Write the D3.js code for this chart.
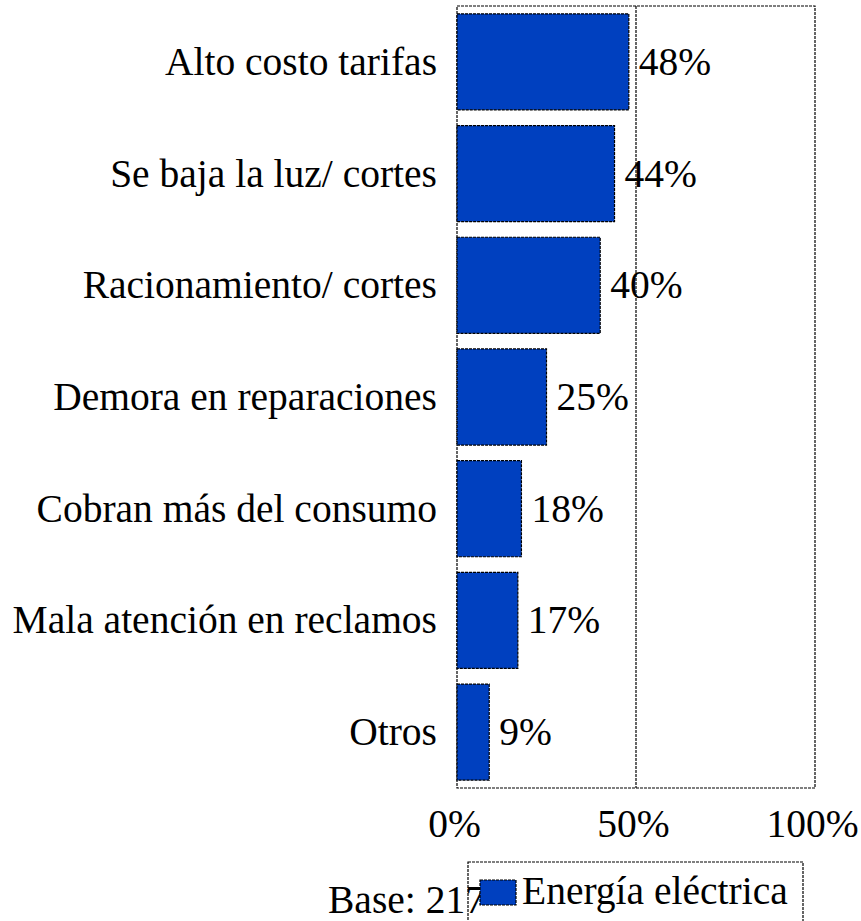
<!DOCTYPE html>
<html>
<head>
<meta charset="utf-8">
<script src="https://cdn.jsdelivr.net/npm/d3@7"></script>
<style>
  html, body { margin: 0; padding: 0; background: #fff; }
  svg { display: block; }
  text { font-family: "Liberation Serif", "Times New Roman", serif; fill: #000; }
</style>
</head>
<body>
<svg id="chart" width="861" height="921"></svg>
<script>
const categories = [
  "Alto costo tarifas",
  "Se baja la luz/ cortes",
  "Racionamiento/ cortes",
  "Demora en reparaciones",
  "Cobran más del consumo",
  "Mala atención en reclamos",
  "Otros"
];
const values = [48, 44, 40, 25, 18, 17, 9];
const tickValues = [0, 50, 100];
const tickLabels = ["0%", "50%", "100%"];
const seriesName = "Energía eléctrica";
const baseNote = "Base: 217";

(function () {
const svg = d3.select("#chart");
const fs = 39.5;
const barColor = "#0040bf";
const dash = "3,1";

const pLeft = 457, pRight = 815, pTop = 6, pBottom = 788;

const x = d3.scaleLinear().domain([0, 100]).range([pLeft, pRight]);
const y = d3.scaleBand().domain(categories).range([pTop, pBottom])
  .paddingInner(0.14).paddingOuter(0.07);

// plot frame
svg.append("rect")
  .attr("x", pLeft).attr("y", pTop)
  .attr("width", pRight - pLeft).attr("height", pBottom - pTop)
  .attr("fill", "none").attr("stroke", "#000")
  .attr("stroke-width", 1.2).attr("stroke-dasharray", dash);

// gridline at 50%
svg.append("line")
  .attr("x1", x(50)).attr("x2", x(50))
  .attr("y1", pTop).attr("y2", pBottom)
  .attr("stroke", "#000").attr("stroke-width", 1.2)
  .attr("stroke-dasharray", dash);

const data = categories.map((c, i) => ({ c, v: values[i] }));

// bars
svg.append("g").selectAll("rect").data(data).join("rect")
  .attr("x", x(0))
  .attr("y", d => y(d.c))
  .attr("width", d => x(d.v) - x(0))
  .attr("height", y.bandwidth())
  .attr("fill", barColor)
  .attr("stroke", "#000").attr("stroke-width", 1.2)
  .attr("stroke-dasharray", dash);

// value labels
svg.append("g").selectAll("text").data(data).join("text")
  .attr("x", d => x(d.v) + 10)
  .attr("y", d => y(d.c) + y.bandwidth() / 2)
  .attr("dy", "0.33em")
  .attr("font-size", fs)
  .text(d => d.v + "%");

// category labels
const yAxis = d3.axisLeft(y).tickSize(0).tickPadding(20);
const yg = svg.append("g").attr("transform", `translate(${pLeft},0)`).call(yAxis);
yg.select(".domain").remove();
yg.selectAll("text")
  .attr("font-size", fs)
  .attr("font-family", '"Liberation Serif", "Times New Roman", serif')
  .attr("fill", "#000")
  .attr("dy", "0.33em");

// x axis labels
const xAxis = d3.axisBottom(x).tickValues(tickValues)
  .tickFormat((d, i) => tickLabels[i]).tickSize(0).tickPadding(0);
const xg = svg.append("g").attr("transform", `translate(-3,0)`).call(xAxis);
xg.select(".domain").remove();
xg.selectAll("text")
  .attr("font-size", fs)
  .attr("font-family", '"Liberation Serif", "Times New Roman", serif')
  .attr("fill", "#000")
  .attr("y", 837).attr("dy", 0);

// base note
svg.append("text")
  .attr("x", 328).attr("y", 913)
  .attr("font-size", fs)
  .text(baseNote);

// legend
const lg = svg.append("g");
lg.append("rect")
  .attr("x", 468).attr("y", 862)
  .attr("width", 803 - 468).attr("height", 80)
  .attr("fill", "none").attr("stroke", "#000")
  .attr("stroke-width", 1.2).attr("stroke-dasharray", dash);
lg.append("rect")
  .attr("x", 480).attr("y", 880)
  .attr("width", 36).attr("height", 25)
  .attr("fill", barColor).attr("stroke", "#000")
  .attr("stroke-width", 1.2).attr("stroke-dasharray", dash);
lg.append("text")
  .attr("x", 522).attr("y", 904)
  .attr("font-size", fs)
  .text(seriesName);
})();
</script>
</body>
</html>
